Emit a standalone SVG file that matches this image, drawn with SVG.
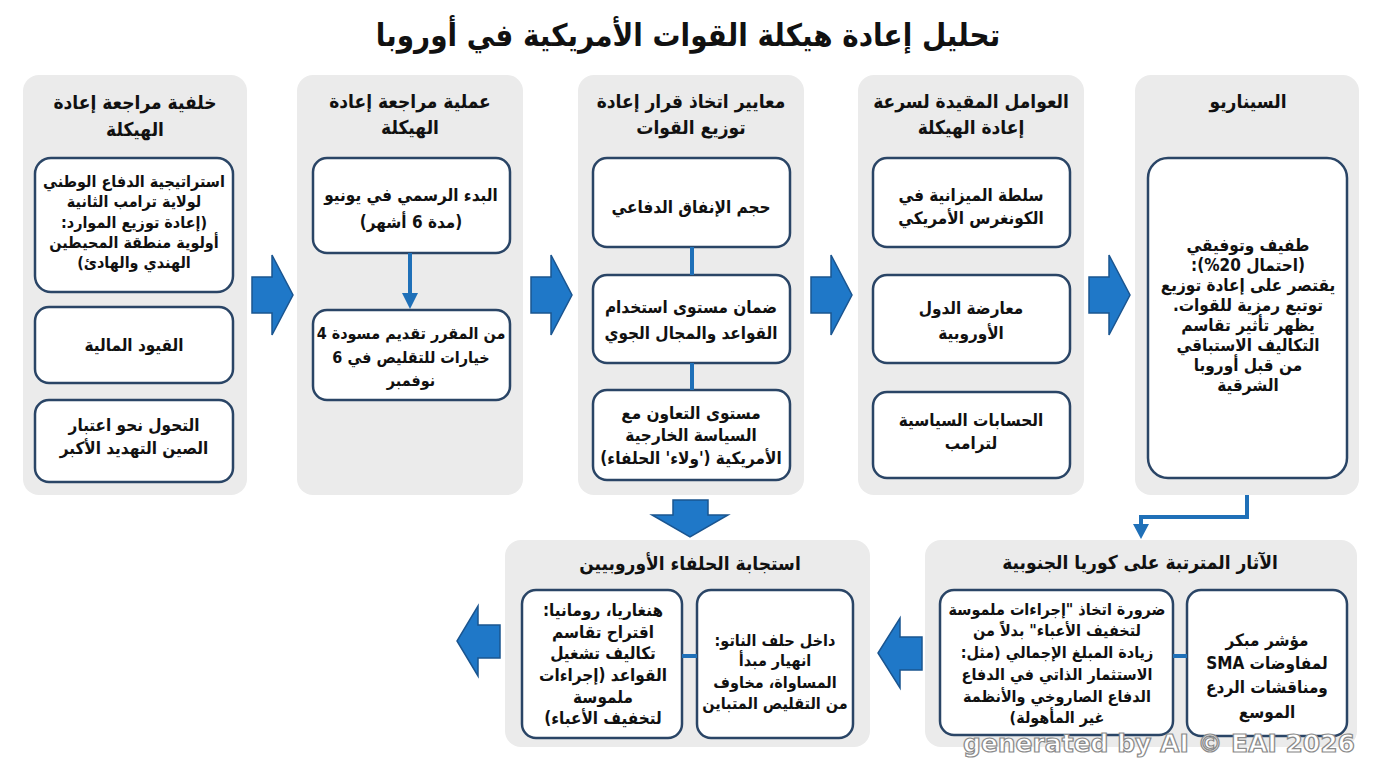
<svg xmlns="http://www.w3.org/2000/svg" width="1376" height="768" viewBox="0 0 1376 768">
<defs>
<style>
.panel{fill:#ebebeb;stroke:none}
.box{fill:#ffffff;stroke:#2a4566;stroke-width:2.5}
.t{font-family:"DejaVu Sans Condensed","Liberation Sans","DejaVu Sans",sans-serif;font-stretch:condensed;font-weight:bold;fill:#111;text-anchor:middle;direction:rtl}
.title{font-size:31px}
.h{font-size:19px}
.b{font-size:17px}
.s{font-size:16px}
.big{fill:#1f78c8;stroke:#1a5590;stroke-width:1.5;stroke-linejoin:miter}
.link{stroke:#1f70b8;stroke-width:4;fill:none}
.wm{font-family:"DejaVu Sans","Liberation Sans",sans-serif;font-weight:bold;font-size:24px;fill:#ffffff;stroke:#8a8a8a;stroke-width:1.2;text-anchor:start}
</style>
</defs>
<rect width="1376" height="768" fill="#ffffff"/>
<text class="t title" x="688" y="46">تحليل إعادة هيكلة القوات الأمريكية في أوروبا</text>

<g id="col1">
<rect class="panel" x="23" y="75" width="224" height="420" rx="16"/>
<text class="t h" x="135" y="109">خلفية مراجعة إعادة</text>
<text class="t h" x="135" y="136">الهيكلة</text>
<g id="c1b1"><rect class="box" x="35" y="158" width="198" height="134" rx="16"/>
<text class="t s" x="134" y="187">استراتيجية الدفاع الوطني</text>
<text class="t s" x="134" y="207">لولاية ترامب الثانية</text>
<text class="t s" x="134" y="228">(إعادة توزيع الموارد:</text>
<text class="t s" x="134" y="248">أولوية منطقة المحيطين</text>
<text class="t s" x="134" y="268">الهندي والهادئ)</text></g>
<g id="c1b2"><rect class="box" x="35" y="307" width="198" height="76" rx="14"/>
<text class="t b" x="134" y="351">القيود المالية</text></g>
<g id="c1b3"><rect class="box" x="35" y="400" width="198" height="82" rx="14"/>
<text class="t b" x="134" y="431">التحول نحو اعتبار</text>
<text class="t b" x="134" y="454">الصين التهديد الأكبر</text></g>
</g>

<g id="col2">
<rect class="panel" x="297" y="75" width="226" height="420" rx="16"/>
<text class="t h" x="410" y="108">عملية مراجعة إعادة</text>
<text class="t h" x="410" y="134">الهيكلة</text>
<g id="c2b1"><rect class="box" x="313" y="158" width="197" height="95" rx="14"/>
<text class="t b" x="411" y="201">البدء الرسمي في يونيو</text>
<text class="t b" x="411" y="228">(مدة 6 أشهر)</text></g>
<g id="c2b2"><rect class="box" x="313" y="310" width="197" height="90" rx="14"/>
<text class="t s" x="411" y="339">من المقرر تقديم مسودة 4</text>
<text class="t s" x="411" y="363">خيارات للتقليص في 6</text>
<text class="t s" x="411" y="386">نوفمبر</text></g>
</g>

<g id="col3">
<rect class="panel" x="578" y="75" width="226" height="420" rx="16"/>
<text class="t h" x="691" y="108">معايير اتخاذ قرار إعادة</text>
<text class="t h" x="691" y="134">توزيع القوات</text>
<g id="c3b1"><rect class="box" x="593" y="158" width="197" height="89" rx="14"/>
<text class="t b" x="691" y="213">حجم الإنفاق الدفاعي</text></g>
<g id="c3b2"><rect class="box" x="593" y="275" width="197" height="88" rx="14"/>
<text class="t b" x="691" y="313">ضمان مستوى استخدام</text>
<text class="t b" x="691" y="339">القواعد والمجال الجوي</text></g>
<g id="c3b3"><rect class="box" x="593" y="390" width="197" height="90" rx="14"/>
<text class="t b" x="691" y="419">مستوى التعاون مع</text>
<text class="t b" x="691" y="441">السياسة الخارجية</text>
<text class="t b" x="691" y="464">الأمريكية ('ولاء' الحلفاء)</text></g>
</g>

<g id="col4">
<rect class="panel" x="858" y="75" width="226" height="420" rx="16"/>
<text class="t h" x="971" y="108">العوامل المقيدة لسرعة</text>
<text class="t h" x="971" y="134">إعادة الهيكلة</text>
<g id="c4b1"><rect class="box" x="873" y="158" width="197" height="89" rx="14"/>
<text class="t b" x="971" y="201">سلطة الميزانية في</text>
<text class="t b" x="971" y="224">الكونغرس الأمريكي</text></g>
<g id="c4b2"><rect class="box" x="873" y="275" width="197" height="88" rx="14"/>
<text class="t b" x="971" y="314">معارضة الدول</text>
<text class="t b" x="971" y="339">الأوروبية</text></g>
<g id="c4b3"><rect class="box" x="873" y="392" width="197" height="86" rx="14"/>
<text class="t b" x="971" y="426">الحسابات السياسية</text>
<text class="t b" x="971" y="449">لترامب</text></g>
</g>

<g id="col5">
<rect class="panel" x="1135" y="75" width="224" height="420" rx="16"/>
<text class="t h" x="1248" y="108">السيناريو</text>
<g id="c5b1"><rect class="box" x="1148" y="158" width="199" height="320" rx="20"/>
<text class="t b" x="1248" y="251">طفيف وتوفيقي</text>
<text class="t b" x="1248" y="271">(احتمال 20%):</text>
<text class="t b" x="1248" y="291">يقتصر على إعادة توزيع</text>
<text class="t b" x="1248" y="311">توتبع رمزية للقوات.</text>
<text class="t b" x="1248" y="331">يظهر تأثير تقاسم</text>
<text class="t b" x="1248" y="351">التكاليف الاستباقي</text>
<text class="t b" x="1248" y="371">من قبل أوروبا</text>
<text class="t b" x="1248" y="391">الشرقية</text></g>
</g>

<g id="korea">
<rect class="panel" x="925" y="540" width="432" height="207" rx="16"/>
<text class="t h" x="1140" y="569">الآثار المترتبة على كوريا الجنوبية</text>
<g id="k1"><rect class="box" x="940" y="590" width="233" height="145" rx="14"/>
<text class="t s" x="1057" y="615">ضرورة اتخاذ "إجراءات ملموسة</text>
<text class="t s" x="1057" y="636">لتخفيف الأعباء" بدلاً من</text>
<text class="t s" x="1057" y="658">زيادة المبلغ الإجمالي (مثل:</text>
<text class="t s" x="1057" y="680">الاستثمار الذاتي في الدفاع</text>
<text class="t s" x="1057" y="702">الدفاع الصاروخي والأنظمة</text>
<text class="t s" x="1057" y="723">غير المأهولة)</text></g>
<g id="k2"><rect class="box" x="1187" y="590" width="160" height="146" rx="14"/>
<text class="t b" x="1267" y="646">مؤشر مبكر</text>
<text class="t b" x="1267" y="669">لمفاوضات SMA</text>
<text class="t b" x="1267" y="693">ومناقشات الردع</text>
<text class="t b" x="1267" y="718">الموسع</text></g>
</g>

<g id="allies">
<rect class="panel" x="505" y="540" width="365" height="207" rx="16"/>
<text class="t h" x="690" y="570">استجابة الحلفاء الأوروبيين</text>
<g id="a1"><rect class="box" x="522" y="590" width="160" height="148" rx="14"/>
<text class="t b" x="603" y="616">هنغاريا، رومانيا:</text>
<text class="t b" x="603" y="638">اقتراح تقاسم</text>
<text class="t b" x="603" y="659">تكاليف تشغيل</text>
<text class="t b" x="603" y="681">القواعد (إجراءات</text>
<text class="t b" x="603" y="703">ملموسة</text>
<text class="t b" x="603" y="724">لتخفيف الأعباء)</text></g>
<g id="a2"><rect class="box" x="697" y="590" width="156" height="148" rx="14"/>
<text class="t s" x="775" y="646">داخل حلف الناتو:</text>
<text class="t s" x="775" y="666">انهيار مبدأ</text>
<text class="t s" x="775" y="688">المساواة، مخاوف</text>
<text class="t s" x="775" y="709">من التقليص المتباين</text></g>
</g>

<g id="connectors">
<path class="big" d="M252,277 H272 V255 L293,295 L272,335 V313 H252 Z"/>
<path class="big" d="M531,277 H551 V255 L572,295 L551,335 V313 H531 Z"/>
<path class="big" d="M811,277 H831 V255 L852,295 L831,335 V313 H811 Z"/>
<path class="big" d="M1089,277 H1109 V255 L1130,295 L1109,335 V313 H1089 Z"/>
<path class="big" d="M673,500 H708 V515 H728 L690,537 L652,515 H673 Z"/>
<path class="big" d="M922,637 H900 V618 L878,653 L900,688 V670 H922 Z"/>
<path class="big" d="M500,625 H478 V606 L457,641 L478,676 V658 H500 Z"/>
<line class="link" x1="410" y1="253" x2="410" y2="296"/>
<path d="M402,293 L418,293 L410,309 Z" fill="#1f70b8"/>
<line class="link" x1="692" y1="247" x2="692" y2="275"/>
<line class="link" x1="692" y1="363" x2="692" y2="390"/>
<path class="link" d="M1247,495 V517 H1141 V527"/>
<path d="M1133,524 L1149,524 L1141,539 Z" fill="#1f70b8"/>
<line class="link" x1="1173" y1="656" x2="1187" y2="656"/>
<line class="link" x1="682" y1="656" x2="697" y2="656"/>
</g>
<text class="wm" x="963" y="752" textLength="392" lengthAdjust="spacingAndGlyphs">generated by AI © EAI 2026</text>
</svg>
